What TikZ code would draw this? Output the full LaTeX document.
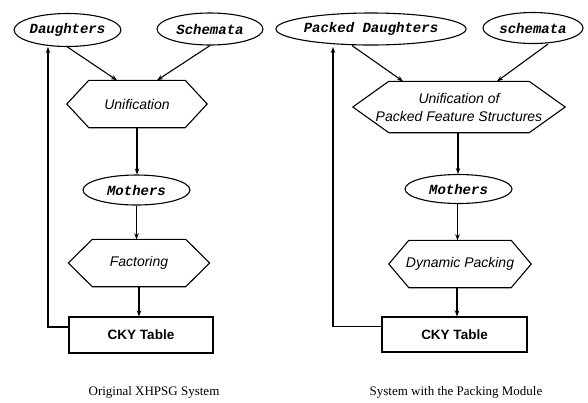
\documentclass[tikz,border=0pt]{standalone}
\usepackage{fontspec}
\setmainfont{Liberation Serif}
\newfontfamily\monofnt{Liberation Mono}
\newfontfamily\sansfnt{Liberation Sans}
\usetikzlibrary{shapes.geometric,arrows.meta}
\tikzset{
  lw/.style={line width=1.1bp},
  ell/.style={ellipse, draw, lw, inner sep=0pt, font=\monofnt\bfseries\itshape\fontsize{14bp}{16bp}\selectfont},
  hexbox/.style={rectangle, draw=none, inner sep=0pt, align=center, font=\sansfnt\itshape\fontsize{14bp}{18bp}\selectfont},
  tbl/.style={rectangle, draw, lw, inner sep=0pt, font=\sansfnt\bfseries\fontsize{13.5bp}{16bp}\selectfont},
  captext/.style={font=\fontsize{13bp}{15bp}\selectfont},
  arr/.style={lw, -{Stealth[length=6bp,width=4.5bp]}},
}
\newcommand{\hexdraw}[2]{%
  \draw[lw] ([xshift=#2]#1.north west) -- ([xshift=-#2]#1.north east) -- (#1.east)
    -- ([xshift=-#2]#1.south east) -- ([xshift=#2]#1.south west) -- (#1.west) -- cycle;}
\begin{document}
\begin{tikzpicture}[x=1bp,y=-1bp]
\useasboundingbox (0,0) rectangle (588,402);
% ---------- left diagram ----------
\node[ell, minimum width=105bp, minimum height=33bp] (d1) at (67.5,30) {Daughters};
\node[ell, minimum width=106bp, minimum height=32bp] (s1) at (210,29) {Schemata};
\node[hexbox, minimum width=140bp, minimum height=47bp] (u1) at (137,104) {Unification};
\hexdraw{u1}{22bp}
\node[ell, minimum width=107bp, minimum height=30bp] (m1) at (136.5,190) {Mothers};
\node[hexbox, minimum width=141bp, minimum height=47bp] (f1) at (139,263) {Factoring};
\hexdraw{f1}{24bp}
\node[tbl, minimum width=144bp, minimum height=36bp] (c1) at (141,335) {CKY Table};
\coordinate (fb1) at (48,47);
\draw[arr] (d1.south) -- ([xshift=-20bp]u1.north);
\draw[arr] (s1.south) -- ([xshift=20bp]u1.north);
\draw[arr] (u1.south) -- (m1.north -| u1.south);
\draw[arr] (m1.south) -- (m1.south |- f1.north);
\draw[arr] (f1.south) -- (f1.south |- c1.north);
\draw[arr] ([yshift=8bp]c1.west) -| (fb1);
\node[captext] (t1) at (154,392) {Original XHPSG System};
% ---------- right diagram ----------
\node[ell, minimum width=158bp, minimum height=32bp] (d2) at (371,29) {Packed Daughters};
\node[ell, minimum width=100bp, minimum height=31bp] (s2) at (533,28) {schemata};
\node[hexbox, minimum width=212bp, minimum height=51bp] (u2) at (459,107) {Unification of\\Packed Feature Structures};
\hexdraw{u2}{36bp}
\node[ell, minimum width=107bp, minimum height=29bp] (m2) at (458.5,189) {Mothers};
\node[hexbox, minimum width=142bp, minimum height=47bp] (f2) at (460,264) {Dynamic Packing};
\hexdraw{f2}{20bp}
\node[tbl, minimum width=145bp, minimum height=35bp] (c2) at (454.5,334.5) {CKY Table};
\coordinate (fb2) at (333,47);
\draw[arr] ([xshift=-19bp]d2.south) -- ([xshift=-56bp]u2.north);
\draw[arr] ([xshift=15bp]s2.south) -- ([xshift=38bp]u2.north);
\draw[arr] ([xshift=-1bp]u2.south) -- ([xshift=-1bp]u2.south |- m2.north);
\draw[arr] ([xshift=-1bp]m2.south) -- ([xshift=-1bp]m2.south |- f2.north);
\draw[arr] ([xshift=-3bp]f2.south) -- ([xshift=-3bp]f2.south |- c2.north);
\draw[arr] ([yshift=8bp]c2.west) -| (fb2);
\node[captext] (t2) at (456,392) {System with the Packing Module};
\end{tikzpicture}
\end{document}
